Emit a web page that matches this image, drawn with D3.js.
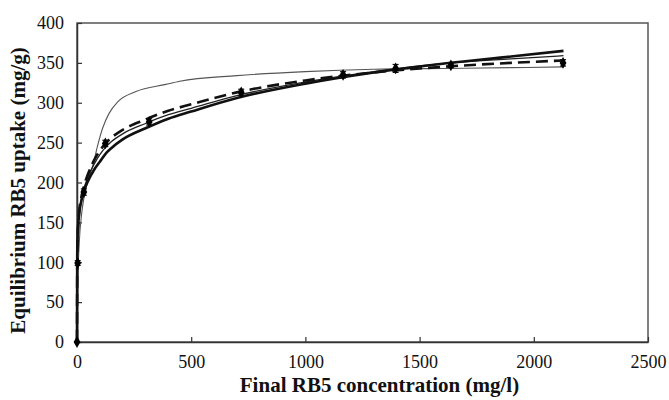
<!DOCTYPE html>
<html><head><meta charset="utf-8">
<script src="https://cdn.jsdelivr.net/npm/d3@7"></script>
<style>body{margin:0;background:#fff}svg{display:block}</style>
</head><body>
<script>
// Experimental points
const expX   = [0, 3, 30, 124, 316, 719, 1165, 1395, 1637, 2128];
const expY   = [0, 99, 188, 249, 276, 313, 335, 343, 347, 350];
const expErr = [0, 3, 4, 4, 4, 4, 4, 5, 3, 4];

// Model curves
const modelX = [0, 1, 3, 6, 10, 20, 30, 50, 75, 100, 125, 150, 200, 300, 400, 500, 700, 1000, 1300, 1600, 1900, 2130];
const thickSolidY = [0, 110, 135, 150, 162, 178, 189, 203, 216, 226, 236, 243, 254, 268, 280, 289, 306, 324, 338, 349, 358, 365];
const thinSolidY  = [0, 105, 133, 150, 163, 180, 192, 208, 223, 235, 244, 251, 261, 274, 285, 293, 309, 326, 339, 349, 355, 359];
const dashedY     = [0, 95, 128, 150, 165, 183, 195, 212, 228, 240, 249, 256, 266, 279, 290, 298, 313, 328, 338, 345, 350, 353];
const grayX = [0, 3, 10, 20, 30, 54, 68, 90, 112, 141, 178, 258, 389, 450, 700, 1000, 1300, 1600, 1900, 2130];
const grayY = [0, 70, 125, 160, 180, 208, 220, 246, 268, 287, 301, 314, 323, 327, 334, 339, 342, 343, 344, 345];

const xTicks = [0, 500, 1000, 1500, 2000, 2500];
const yTicks = [0, 50, 100, 150, 200, 250, 300, 350, 400];
const xTitle = "Final RB5 concentration (mg/l)";
const yTitle = "Equilibrium RB5 uptake (mg/g)";

const W = 669, H = 400;
const m = {left: 77, right: 21, top: 23, bottom: 58};
const svg = d3.select("body").append("svg").attr("width", W).attr("height", H);
const x = d3.scaleLinear().domain([0, 2500]).range([m.left, W - m.right]);
const y = d3.scaleLinear().domain([0, 400]).range([H - m.bottom, m.top]);

// frame
svg.append("rect").attr("x", x(0)).attr("y", y(400))
  .attr("width", x(2500) - x(0)).attr("height", y(0) - y(400))
  .attr("fill", "none").attr("stroke", "#555").attr("stroke-width", 1.5);

const font = "'Liberation Serif','Times New Roman',serif";

const xAxis = svg.append("g").attr("transform", `translate(0,${y(0)})`)
  .call(d3.axisBottom(x).tickValues(xTicks).tickSizeInner(-5).tickSizeOuter(0).tickPadding(13).tickFormat(d3.format("d")));
const yAxis = svg.append("g").attr("transform", `translate(${x(0)},0)`)
  .call(d3.axisLeft(y).tickValues(yTicks).tickSizeInner(-5).tickSizeOuter(0).tickPadding(13).tickFormat(d3.format("d")));
[xAxis, yAxis].forEach(g => {
  g.select(".domain").attr("stroke", "#333").attr("stroke-width", 1.5);
  g.selectAll(".tick line").attr("stroke", "#333").attr("stroke-width", 1.2);
  g.selectAll("text").attr("font-family", font).attr("font-size", 18).attr("fill", "#111");
});

const line = (xs) => d3.line().x((d, i) => x(xs[i])).y(d => y(d)).curve(d3.curveMonotoneX);

svg.append("path").datum(grayY).attr("d", line(grayX))
  .attr("fill", "none").attr("stroke", "#555").attr("stroke-width", 1.1);
svg.append("path").datum(thinSolidY).attr("d", line(modelX))
  .attr("fill", "none").attr("stroke", "#222").attr("stroke-width", 1.3);
svg.append("path").datum(dashedY).attr("d", line(modelX))
  .attr("fill", "none").attr("stroke", "#111").attr("stroke-width", 2.6).attr("stroke-dasharray", "12,6");
svg.append("path").datum(thickSolidY).attr("d", line(modelX))
  .attr("fill", "none").attr("stroke", "#111").attr("stroke-width", 2.6);

// error bars
const eb = svg.append("g").attr("stroke", "#111").attr("stroke-width", 1.2);
expX.forEach((v, i) => {
  if (expErr[i] <= 0) return;
  eb.append("line").attr("x1", x(v)).attr("x2", x(v)).attr("y1", y(expY[i] - expErr[i])).attr("y2", y(expY[i] + expErr[i]));
  [-1, 1].forEach(s => eb.append("line").attr("x1", x(v) - 3).attr("x2", x(v) + 3)
    .attr("y1", y(expY[i] + s * expErr[i])).attr("y2", y(expY[i] + s * expErr[i])));
});
// points
svg.append("g").selectAll("path").data(expX).join("path")
  .attr("transform", (d, i) => `translate(${x(d)},${y(expY[i])})`)
  .attr("d", d3.symbol(d3.symbolDiamond, 40)).attr("fill", "#000");

svg.append("text").attr("x", (x(0) + x(2500)) / 2 + 17).attr("y", 392).attr("text-anchor", "middle")
  .attr("font-family", font).attr("font-weight", "bold").attr("font-size", 21).attr("fill", "#111").text(xTitle);
svg.append("text").attr("transform", `translate(25,${(y(0) + y(400)) / 2 + 8}) rotate(-90)`).attr("text-anchor", "middle")
  .attr("font-family", font).attr("font-weight", "bold").attr("font-size", 21).attr("fill", "#111").text(yTitle);
</script>
</body></html>
